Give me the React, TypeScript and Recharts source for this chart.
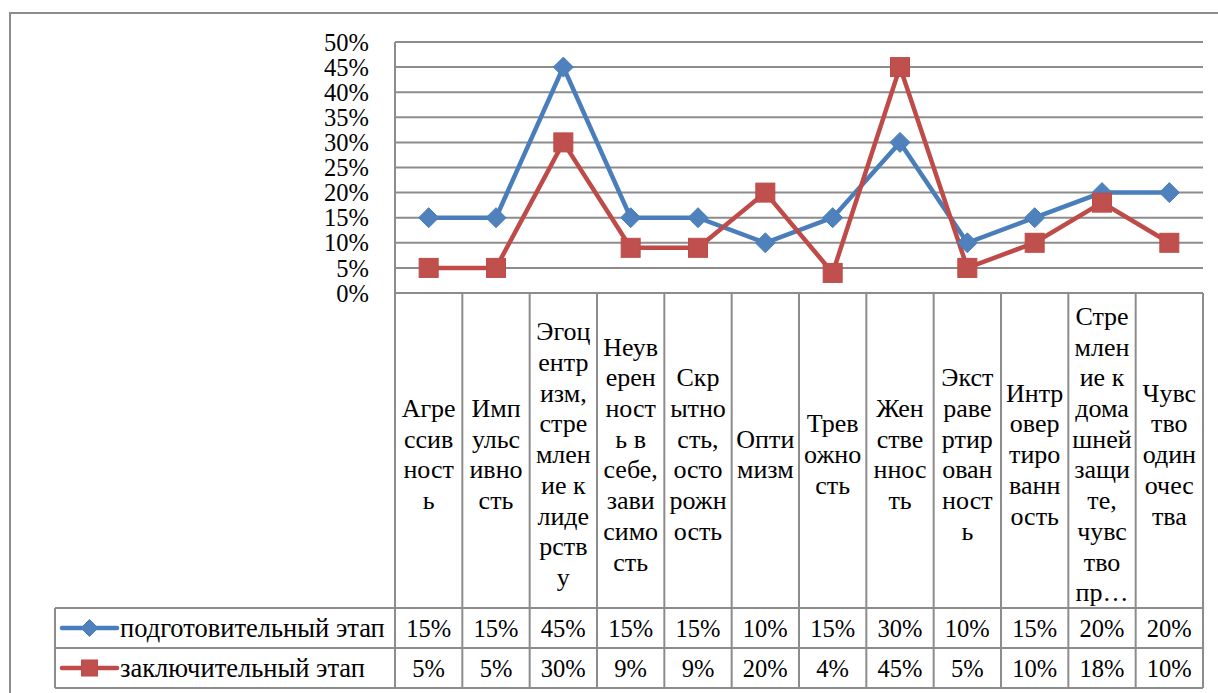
import React from 'react';
import { LineChart, Line, XAxis, YAxis, CartesianGrid } from 'recharts';

const categories = [
  'Агрессивность',
  'Импульсивность',
  'Эгоцентризм, стремление к лидерству',
  'Неуверенность в себе, зависимость',
  'Скрытность, осторожность',
  'Оптимизм',
  'Тревожность',
  'Женственность',
  'Экстравертированность',
  'Интровертированность',
  'Стремление к домашней защите, чувство пр…',
  'Чувство одиночества',
];

const categoryLines = [
  ['Агре', 'ссив', 'ност', 'ь'],
  ['Имп', 'ульс', 'ивно', 'сть'],
  ['Эгоц', 'ентр', 'изм,', 'стре', 'млен', 'ие к', 'лиде', 'рств', 'у'],
  ['Неув', 'ерен', 'ност', 'ь в', 'себе,', 'зави', 'симо', 'сть'],
  ['Скр', 'ытно', 'сть,', 'осто', 'рожн', 'ость'],
  ['Опти', 'мизм'],
  ['Трев', 'ожно', 'сть'],
  ['Жен', 'стве', 'ннос', 'ть'],
  ['Экст', 'раве', 'ртир', 'ован', 'ност', 'ь'],
  ['Интр', 'овер', 'тиро', 'ванн', 'ость'],
  ['Стре', 'млен', 'ие к', 'дома', 'шней', 'защи', 'те,', 'чувс', 'тво', 'пр…'],
  ['Чувс', 'тво', 'один', 'очес', 'тва'],
];

const prepValues = [0.15, 0.15, 0.45, 0.15, 0.15, 0.1, 0.15, 0.3, 0.1, 0.15, 0.2, 0.2];
const finalValues = [0.05, 0.05, 0.3, 0.09, 0.09, 0.2, 0.04, 0.45, 0.05, 0.1, 0.18, 0.1];
const seriesNames = ['подготовительный этап', 'заключительный этап'];
const yTicks = [0, 0.05, 0.1, 0.15, 0.2, 0.25, 0.3, 0.35, 0.4, 0.45, 0.5];

const data = categories.map((name, i) => ({ name, prep: prepValues[i], fin: finalValues[i] }));

const W = 1218;
const H = 693;
const PLOT_L = 395;
const PLOT_R = 1203;
const PLOT_T = 42;
const PLOT_B = 293;
const BAND = (PLOT_R - PLOT_L) / categories.length;
const ROW1 = 608;
const ROW2 = 648;
const ROW3 = 688;
const TABLE_L = 55;
const FONT = 'Liberation Serif';
const LH = 30.7;
const GRID = '#8c8c8c';
const BLUE = '#4A7EBB';
const BLUE_FILL = '#4F81BD';
const RED = '#BE4B48';
const RED_FILL = '#C0504D';
const NUM_TXT = { fontFamily: FONT, fontSize: 24.5, fill: '#000' };
const CAT_TXT = { fontFamily: FONT, fontSize: 26, fill: '#000' };
const LEG_TXT = { fontFamily: FONT, fontSize: 26.5, fill: '#000' };

const pct = (v: number) => `${Math.round(v * 100)}%`;

const Diamond = (props: any) => {
  const { cx, cy, size = 10 } = props;
  if (cx == null || cy == null) return null;
  const r = size;
  return <path d={`M${cx},${cy - r} L${cx + r},${cy} L${cx},${cy + r} L${cx - r},${cy} Z`} fill={BLUE_FILL} stroke={BLUE} strokeWidth={1} />;
};

const Square = (props: any) => {
  const { cx, cy, size = 9.5 } = props;
  if (cx == null || cy == null) return null;
  const r = size;
  return <rect x={cx - r} y={cy - r} width={2 * r} height={2 * r} fill={RED_FILL} stroke={RED} strokeWidth={1} />;
};

const renderTick = (props: any) => {
  const { x, index } = props;
  const lines = categoryLines[index] || [];
  const cy = 454;
  const n = lines.length;
  const left = x - BAND / 2;
  const right = x + BAND / 2;
  return (
    <g>
      <line x1={left} x2={left} y1={PLOT_B} y2={ROW3} stroke={GRID} strokeWidth={2} />
      {index === categories.length - 1 && (
        <line x1={right} x2={right} y1={PLOT_B} y2={ROW3} stroke={GRID} strokeWidth={2} />
      )}
      <text textAnchor="middle" style={CAT_TXT}>
        {lines.map((l, i) => (
          <tspan key={i} x={x} y={cy + (i - (n - 1) / 2) * LH} dy="0.35em">
            {l}
          </tspan>
        ))}
      </text>
      <text x={x} y={(ROW1 + ROW2) / 2} dy="0.35em" textAnchor="middle" style={NUM_TXT}>
        {pct(prepValues[index])}
      </text>
      <text x={x} y={(ROW2 + ROW3) / 2} dy="0.35em" textAnchor="middle" style={NUM_TXT}>
        {pct(finalValues[index])}
      </text>
      {index === 0 && (
        <g>
          <line x1={TABLE_L} x2={PLOT_R} y1={ROW1} y2={ROW1} stroke={GRID} strokeWidth={2} />
          <line x1={TABLE_L} x2={PLOT_R} y1={ROW2} y2={ROW2} stroke={GRID} strokeWidth={2} />
          <line x1={TABLE_L} x2={PLOT_R} y1={ROW3} y2={ROW3} stroke={GRID} strokeWidth={2} />
          <line x1={TABLE_L} x2={TABLE_L} y1={ROW1} y2={ROW3} stroke={GRID} strokeWidth={2} />
          <line x1={62} x2={117} y1={(ROW1 + ROW2) / 2} y2={(ROW1 + ROW2) / 2} stroke={BLUE} strokeWidth={4.5} strokeLinecap="round" />
          <Diamond cx={89.5} cy={(ROW1 + ROW2) / 2} size={8.5} />
          <line x1={62} x2={117} y1={(ROW2 + ROW3) / 2} y2={(ROW2 + ROW3) / 2} stroke={RED} strokeWidth={4.5} strokeLinecap="round" />
          <Square cx={89.5} cy={(ROW2 + ROW3) / 2} size={8} />
          <text x={120} y={(ROW1 + ROW2) / 2} dy="0.35em" style={LEG_TXT}>
            {seriesNames[0]}
          </text>
          <text x={120} y={(ROW2 + ROW3) / 2} dy="0.35em" style={LEG_TXT}>
            {seriesNames[1]}
          </text>
        </g>
      )}
    </g>
  );
};

export default function App() {
  return (
    <div style={{ position: 'absolute', left: 0, top: 0, width: W, height: H, background: '#fff', overflow: 'hidden' }}>
      <div
        style={{
          position: 'absolute',
          left: 9,
          top: 12,
          width: W,
          height: H,
          borderTop: `2px solid ${GRID}`,
          borderLeft: `2px solid ${GRID}`,
        }}
      />
      <div style={{ position: 'absolute', left: 0, top: 0 }}>
        <LineChart
          width={W}
          height={H}
          data={data}
          margin={{ top: PLOT_T, right: W - PLOT_R, bottom: H - PLOT_B - 30, left: PLOT_L - 60 }}
        >
          <CartesianGrid vertical={false} stroke={GRID} strokeWidth={2} />
          <XAxis
            dataKey="name"
            height={30}
            interval={0}
            padding={{ left: BAND / 2, right: BAND / 2 }}
            axisLine={{ stroke: GRID, strokeWidth: 2 }}
            tickLine={false}
            tickSize={0}
            tick={renderTick}
          />
          <YAxis
            width={60}
            domain={[0, 0.5]}
            ticks={yTicks}
            interval={0}
            tickFormatter={pct}
            axisLine={{ stroke: GRID, strokeWidth: 2 }}
            tickLine={false}
            tickSize={0}
            tickMargin={26}
            tick={{ fill: '#000', fontSize: 24.5, fontFamily: FONT }}
          />
          <Line dataKey="prep" stroke={BLUE} strokeWidth={4.5} dot={<Diamond />} activeDot={false} isAnimationActive={false} />
          <Line dataKey="fin" stroke={RED} strokeWidth={4.5} dot={<Square />} activeDot={false} isAnimationActive={false} />
        </LineChart>
      </div>
    </div>
  );
}
